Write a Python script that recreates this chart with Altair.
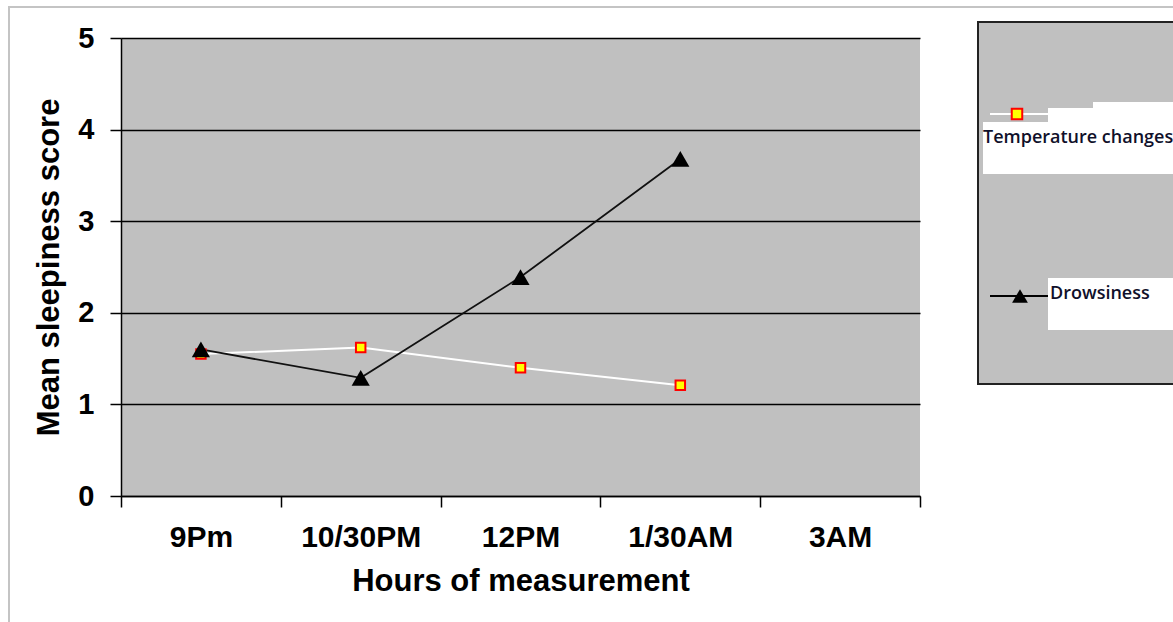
import altair as alt
import pandas as pd

hours = ["9Pm", "10/30PM", "12PM", "1/30AM", "3AM"]
measured = ["9Pm", "10/30PM", "12PM", "1/30AM"]
temperature = [1.55, 1.62, 1.40, 1.21]
drowsiness = [1.60, 1.29, 2.39, 3.68]
series_names = ["Temperature changes", "Drowsiness"]

df_t = pd.DataFrame({"hour": measured, "value": temperature, "series": series_names[0]})
df_d = pd.DataFrame({"hour": measured, "value": drowsiness, "series": series_names[1]})

FONT = "Liberation Sans"
ONE = pd.DataFrame({"a": [0]})

x_enc = alt.X(
    "hour:N",
    sort=hours,
    scale=alt.Scale(domain=hours, paddingInner=0, paddingOuter=0),
    axis=alt.Axis(
        title="Hours of measurement",
        tickBand="extent",
        labelAngle=0,
        labelFont=FONT, labelFontSize=30, labelFontWeight="bold", labelColor="black",
        titleFont=FONT, titleFontSize=31, titleFontWeight="bold", titleColor="black",
        tickSize=11, tickColor="black", tickWidth=1.5,
        domainColor="black", domainWidth=1.5,
        labelPadding=15, titlePadding=14,
        grid=False,
    ),
)
y_enc = alt.Y(
    "value:Q",
    scale=alt.Scale(domain=[0, 5], nice=False),
    axis=alt.Axis(
        title="Mean sleepiness score",
        values=[0, 1, 2, 3, 4, 5],
        labelFont=FONT, labelFontSize=29, labelFontWeight="bold", labelColor="black",
        titleFont=FONT, titleFontSize=31, titleFontWeight="bold", titleColor="black",
        tickSize=11, tickColor="black", tickWidth=1.5,
        domainColor="black", domainWidth=1.5,
        grid=True, gridColor="black", gridWidth=1.5,
        labelPadding=16, titlePadding=12,
    ),
)

temp_line = alt.Chart(df_t).mark_line(color="white", strokeWidth=2).encode(x=x_enc, y=y_enc)
temp_pts = alt.Chart(df_t).mark_point(
    shape="square", filled=True, fill="#ffff00", stroke="#ff0000", strokeWidth=2, size=90, opacity=1
).encode(x=x_enc, y=y_enc)
drow_line = alt.Chart(df_d).mark_line(color="#111111", strokeWidth=1.8).encode(x=x_enc, y=y_enc)
drow_pts = alt.Chart(df_d).mark_point(
    shape="triangle-up", filled=True, color="black", size=330, opacity=1
).encode(x=x_enc, y=y_enc)

# decorations (pixel positions relative to the plot origin)
border = alt.Chart(ONE).mark_rect(fill=None, stroke="#c4c4c4", strokeWidth=2).encode(
    x=alt.value(-112), x2=alt.value(1200), y=alt.value(-31), y2=alt.value(700)
)
leg_box = alt.Chart(ONE).mark_rect(fill="#c0c0c0", stroke="#222222", strokeWidth=2).encode(
    x=alt.value(857), x2=alt.value(1080), y=alt.value(-16), y2=alt.value(346)
)
white1 = alt.Chart(ONE).mark_rect(fill="white").encode(
    x=alt.value(862), x2=alt.value(1060), y=alt.value(84), y2=alt.value(136)
)
white2 = alt.Chart(ONE).mark_rect(fill="white").encode(
    x=alt.value(927), x2=alt.value(1060), y=alt.value(70), y2=alt.value(86)
)
white2b = alt.Chart(ONE).mark_rect(fill="white").encode(
    x=alt.value(972), x2=alt.value(1060), y=alt.value(64), y2=alt.value(86)
)
white3 = alt.Chart(ONE).mark_rect(fill="white").encode(
    x=alt.value(927), x2=alt.value(1060), y=alt.value(240), y2=alt.value(292)
)
leg_tline = alt.Chart(ONE).mark_rule(color="white", strokeWidth=2).encode(
    x=alt.value(869), x2=alt.value(927), y=alt.value(76)
)
leg_tpt = alt.Chart(ONE).mark_point(
    shape="square", filled=True, fill="#ffff00", stroke="#ff0000", strokeWidth=2, size=110, opacity=1
).encode(x=alt.value(896), y=alt.value(76))
leg_ttext = alt.Chart(ONE).mark_text(
    text=series_names[0], align="left", baseline="middle", font="Open Sans", fontSize=18,
    fontWeight=600, color="#10102a"
).encode(x=alt.value(862), y=alt.value(100))
leg_dline = alt.Chart(ONE).mark_rule(color="black", strokeWidth=1.8).encode(
    x=alt.value(869), x2=alt.value(927), y=alt.value(258)
)
leg_dpt = alt.Chart(ONE).mark_point(
    shape="triangle-up", filled=True, color="black", size=250, opacity=1
).encode(x=alt.value(899), y=alt.value(258))
leg_dtext = alt.Chart(ONE).mark_text(
    text=series_names[1], align="left", baseline="middle", font="Open Sans", fontSize=18,
    fontWeight=600, color="#10102a"
).encode(x=alt.value(929), y=alt.value(256))

chart = alt.layer(
    border, leg_box, white1, white2, white2b, white3,
    leg_tline, leg_tpt, leg_ttext, leg_dline, leg_dpt, leg_dtext,
    temp_line, drow_line, temp_pts, drow_pts,
).properties(
    width=799, height=458,
    autosize=alt.AutoSizeParams(type="none"),
    padding={"left": 121, "top": 38, "right": 253, "bottom": 126},
    background="white",
).configure_view(fill="#c0c0c0", stroke=None)

chart.save("out.html", embed_options={"renderer": "svg", "actions": False})
